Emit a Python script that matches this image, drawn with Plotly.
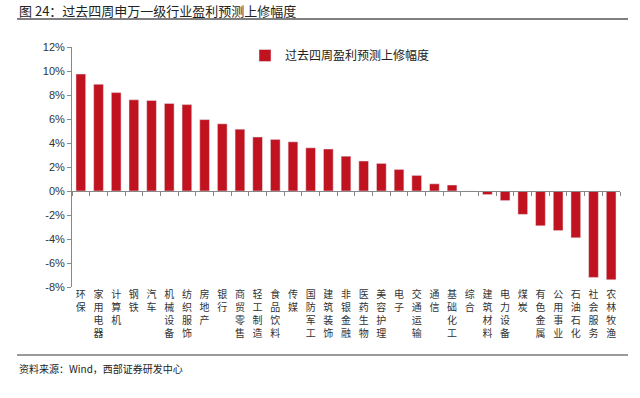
import plotly.graph_objects as go

categories = ["环保", "家用电器", "计算机", "钢铁", "汽车", "机械设备", "纺织服饰", "房地产", "银行",
              "商贸零售", "轻工制造", "食品饮料", "传媒", "国防军工", "建筑装饰", "非银金融", "医药生物",
              "美容护理", "电子", "交通运输", "通信", "基础化工", "综合", "建筑材料", "电力设备", "煤炭",
              "有色金属", "公用事业", "石油石化", "社会服务", "农林牧渔"]
values = [9.75, 8.9, 8.2, 7.6, 7.55, 7.3, 7.2, 5.95, 5.6, 5.15, 4.5, 4.3, 4.1, 3.6, 3.5, 2.9, 2.5,
          2.3, 1.8, 1.3, 0.6, 0.5, 0.0, -0.3, -0.8, -1.95, -2.9, -3.3, -3.9, -7.2, -7.4]
y_ticks = [12, 10, 8, 6, 4, 2, 0, -2, -4, -6, -8]
series_name = "过去四周盈利预测上修幅度"
title_text = "图 24：过去四周申万一级行业盈利预测上修幅度"
source_text = "资料来源：Wind，西部证券研发中心"

cjk = "Noto Sans CJK SC"
bar_color = "#C0121F"

W, H = 640, 398
PL, PR, PT, PB = 72, 620, 47, 287
PW, PH = PR - PL, PB - PT


def px(x):
    return (x - PL) / PW


def py(y):
    return (PB - y) / PH


ticktext = ["<br>".join(list(c)) for c in categories]

fig = go.Figure()
fig.add_trace(go.Bar(x=categories, y=values, name=series_name, marker_color=bar_color,
                     width=0.55, showlegend=True))

fig.update_layout(
    width=W, height=H,
    margin=dict(l=PL, r=W - PR, t=PT, b=H - PB, autoexpand=False),
    paper_bgcolor="white", plot_bgcolor="white",
    font=dict(family=cjk, color="#333"),
    showlegend=True,
    legend=dict(x=px(245), y=py(47) + 6 / PH, xanchor="left", yanchor="top", bgcolor="rgba(0,0,0,0)",
                font=dict(family=cjk, size=12, color="#222"), itemwidth=30),
    xaxis=dict(type="category", categoryorder="array", categoryarray=categories,
               tickmode="array", tickvals=categories, ticktext=ticktext,
               tickfont=dict(family=cjk, size=10, color="#333"), tickangle=0,
               showline=False, ticks="", showgrid=False, range=[-0.5, len(categories) - 0.5]),
    xaxis2=dict(matches="x", overlaying="x", anchor="free", position=0.4, type="category",
                categoryorder="array", categoryarray=categories,
                showticklabels=False, showline=True, linecolor="#888", linewidth=1,
                ticks="outside", tickson="boundaries", ticklen=4, tickcolor="#888", showgrid=False),
    yaxis=dict(range=[-8, 12], tickvals=y_ticks, ticktext=[f"{v}%" for v in y_ticks],
               tickfont=dict(family="Liberation Sans", size=11, color="#333"),
               showline=True, linecolor="#888", linewidth=1, ticks="outside", ticklen=4,
               tickcolor="#888", showgrid=False, zeroline=False),
)

# invisible helper trace so the zero-position category axis is drawn
fig.add_trace(go.Scatter(x=categories, y=[None] * len(categories), xaxis="x2", yaxis="y",
                         showlegend=False, hoverinfo="skip", mode="lines"))

fig.add_annotation(text=title_text, xref="paper", yref="paper", x=px(17), y=py(10),
                   xanchor="left", yanchor="middle", showarrow=False,
                   font=dict(family=cjk, size=13, color="#222"))
fig.add_annotation(text=source_text, xref="paper", yref="paper", x=px(17), y=py(368),
                   xanchor="left", yanchor="middle", showarrow=False,
                   font=dict(family=cjk, size=10, color="#222"))
fig.add_shape(type="line", xref="paper", yref="paper", x0=px(17), x1=px(628),
              y0=py(19), y1=py(19), line=dict(color="#555", width=1.5))
fig.add_shape(type="line", xref="paper", yref="paper", x0=px(17), x1=px(628),
              y0=py(355), y1=py(355), line=dict(color="#777", width=1.5))

fig.write_html("out.html", config={"displayModeBar": False},
               post_script="document.body.style.margin='0';document.body.style.padding='0';")
